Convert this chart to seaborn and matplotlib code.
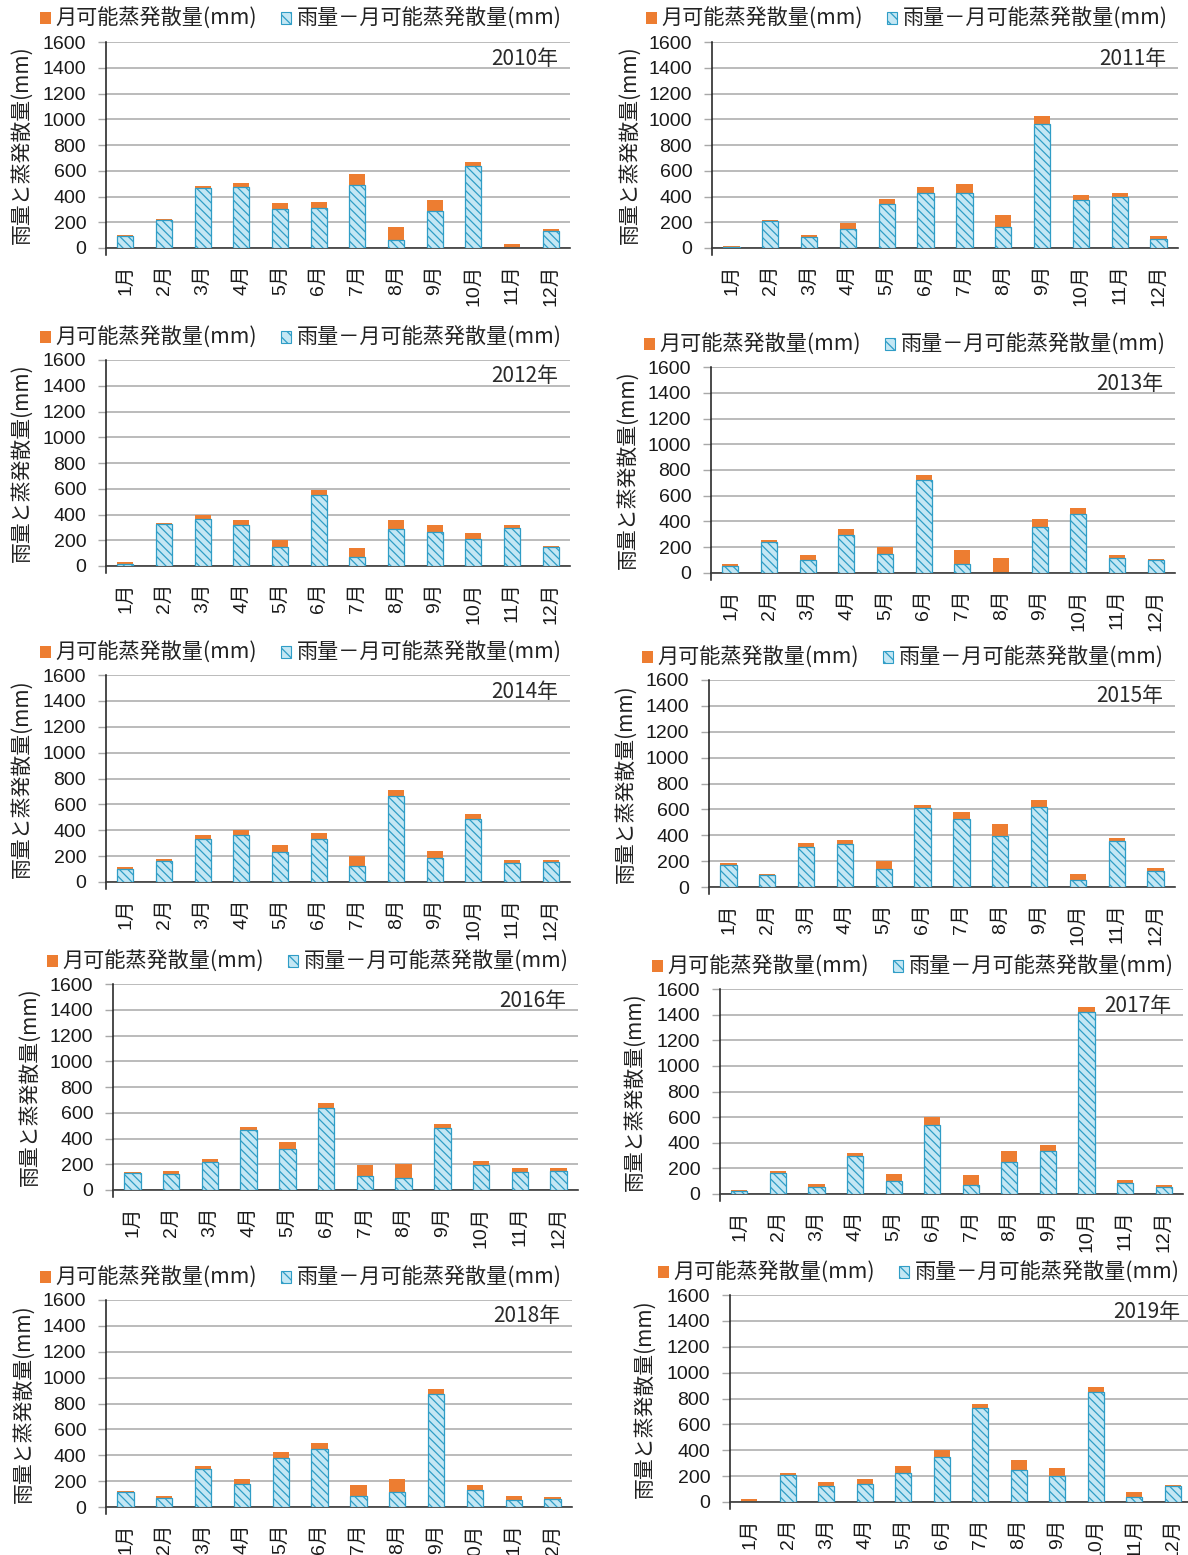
import numpy as np
import matplotlib
matplotlib.use("Agg")
import matplotlib.pyplot as plt
import seaborn as sns
from matplotlib.patches import Patch

sns.set_theme(style="white")
plt.rcParams['font.family'] = ['Liberation Sans', 'Noto Sans CJK JP', 'DejaVu Sans']
plt.rcParams['hatch.linewidth'] = 0.9

months = [f"{m}月" for m in range(1, 13)]

# 月可能蒸発散量 (mm)
pet_2010 = [12, 6, 12, 30, 50, 50, 85, 100, 87, 28, 33, 19]
pet_2011 = [3, 10, 12, 46, 41, 44, 65, 95, 61, 40, 32, 20]
pet_2012 = [10, 10, 26, 33, 52, 36, 76, 65, 60, 41, 23, 11]
pet_2013 = [15, 16, 34, 44, 49, 39, 103, 116, 57, 44, 28, 10]
pet_2014 = [16, 13, 30, 36, 54, 43, 77, 46, 56, 39, 28, 10]
pet_2015 = [16, 10, 28, 29, 59, 25, 56, 92, 49, 46, 21, 18]
pet_2016 = [13, 23, 26, 29, 49, 39, 80, 107, 34, 28, 31, 21]
pet_2017 = [11, 11, 20, 28, 52, 60, 75, 89, 46, 39, 26, 18]
pet_2018 = [13, 16, 26, 44, 49, 47, 85, 106, 44, 42, 25, 11]
pet_2019 = [20, 18, 31, 36, 56, 49, 29, 75, 62, 39, 36, 11]

# 雨量-月可能蒸発散量 (mm)
surplus_2010 = [90, 218, 468, 475, 300, 307, 487, 62, 289, 637, 0, 131]
surplus_2011 = [10, 210, 88, 150, 338, 428, 430, 160, 962, 372, 398, 70]
surplus_2012 = [18, 325, 368, 322, 150, 555, 67, 290, 262, 213, 296, 145]
surplus_2013 = [52, 237, 103, 294, 150, 720, 72, 0, 361, 459, 114, 98]
surplus_2014 = [100, 162, 332, 365, 234, 332, 123, 666, 183, 488, 144, 157]
surplus_2015 = [167, 90, 312, 332, 142, 611, 526, 392, 621, 52, 358, 126]
surplus_2016 = [130, 125, 218, 464, 322, 635, 112, 93, 482, 195, 140, 148]
surplus_2017 = [23, 166, 55, 294, 104, 540, 73, 249, 338, 1421, 86, 52]
surplus_2018 = [113, 72, 291, 175, 379, 448, 88, 113, 871, 131, 57, 64]
surplus_2019 = [0, 206, 121, 139, 224, 350, 725, 247, 198, 851, 39, 123]

years = [2010, 2011, 2012, 2013, 2014, 2015, 2016, 2017, 2018, 2019]
pets = [pet_2010, pet_2011, pet_2012, pet_2013, pet_2014,
        pet_2015, pet_2016, pet_2017, pet_2018, pet_2019]
surpluses = [surplus_2010, surplus_2011, surplus_2012, surplus_2013, surplus_2014,
             surplus_2015, surplus_2016, surplus_2017, surplus_2018, surplus_2019]

yticks = [0, 200, 400, 600, 800, 1000, 1200, 1400, 1600]
legend_labels = ['月可能蒸発散量(mm)', '雨量－月可能蒸発散量(mm)']
ylabel_text = '雨量と蒸発散量(mm)'

ORANGE = "#ED7D31"
HATCH_BLUE = "#2F9DC6"
FACE_BLUE = "#C4E7F4"
GRID = "#A8A8A8"
HATCH = '\\\\\\\\'
JP = ['Noto Sans CJK JP', 'DejaVu Sans']

W, H = 1188, 1555
fig = plt.figure(figsize=(W / 100, H / 100), dpi=100)
fig.patch.set_facecolor('white')

# panel frames in pixels: plot left, plot right, top (1600), bottom (0)
frames = [
    (106, 570, 42, 248), (712, 1178, 42, 248),
    (106, 570, 360, 566), (711, 1175, 367, 573),
    (106, 570, 675, 882), (709, 1175, 680, 887),
    (113, 578, 984, 1190), (720, 1183, 989, 1194),
    (106, 572, 1300, 1507), (730, 1192, 1295, 1502),
]
# legend anchor (left, centre y), y-label centre x
legend_pos = [(40, 19), (646, 19), (40, 338), (644, 345), (40, 653),
              (642, 658), (47, 962), (652, 967), (40, 1278), (658, 1273)]
ylabel_x = [22, 630, 22, 628, 22, 626, 30, 635, 24, 645]

for i, year in enumerate(years):
    l, r, t, b = frames[i]
    ax = fig.add_axes([l / W, 1 - b / H, (r - l) / W, (b - t) / H])
    surplus = np.array(surpluses[i], dtype=float)
    pet = np.array(pets[i], dtype=float)
    total = surplus + pet

    sns.barplot(x=months, y=total, color=ORANGE, saturation=1, width=0.42,
                errorbar=None, ax=ax, linewidth=0, zorder=2)
    sns.barplot(x=months, y=surplus, color=FACE_BLUE, saturation=1, width=0.42,
                errorbar=None, ax=ax, edgecolor=HATCH_BLUE, linewidth=0.9,
                hatch=HATCH, zorder=3)

    ax.set_xlim(-0.5, 11.5)
    ax.set_ylim(0, 1600)
    ax.set_yticks(yticks)
    ax.set_axisbelow(True)
    ax.yaxis.grid(True, color=GRID, linewidth=1.1)
    ax.xaxis.grid(False)
    ax.set_facecolor('none')
    for s in ['top', 'right']:
        ax.spines[s].set_visible(False)
    ax.spines['left'].set_color('#1a1a1a')
    ax.spines['left'].set_linewidth(1.1)
    ax.spines['left'].set_bounds(-55, 1600)
    ax.spines['bottom'].set_color('#3a3a3a')
    ax.spines['bottom'].set_linewidth(1.2)

    ax.tick_params(axis='y', length=5.8, width=1, color=GRID, pad=8.5,
                   labelsize=14, labelcolor='#1a1a1a', left=True)
    ax.tick_params(axis='x', length=0, pad=12, labelsize=14,
                   labelcolor='#1a1a1a', rotation=90)
    ax.set_xlabel('')
    ax.set_ylabel('')

    # vertical axis title
    fig.text(ylabel_x[i] / W, 1 - ((t + b) / 2) / H, ylabel_text,
             rotation=90, ha='center', va='center', fontsize=15,
             family=JP, color='#222222')

    # year tag in the upper right
    ax.text(1 - 12 / (r - l), 1 - 16.5 / (b - t), f'{year}年',
            transform=ax.transAxes, ha='right', va='center',
            fontsize=15, family=JP, color='#2a2a2a', zorder=5)

    handles = [Patch(facecolor=ORANGE, edgecolor='none'),
               Patch(facecolor=FACE_BLUE, edgecolor=HATCH_BLUE, hatch='\\\\\\',
                     linewidth=0.8)]
    lx, ly = legend_pos[i]
    ax.legend(handles, legend_labels, ncol=2, frameon=False,
              loc='center left', bbox_to_anchor=(lx / W, 1 - ly / H),
              bbox_transform=fig.transFigure, prop={'family': JP, 'size': 15.2},
              handlelength=0.5, handleheight=0.5, handletextpad=0.25,
              columnspacing=1.1, borderpad=0, borderaxespad=0,
              labelcolor='#222222')

fig.savefig('out.png', dpi=100, facecolor='white')
